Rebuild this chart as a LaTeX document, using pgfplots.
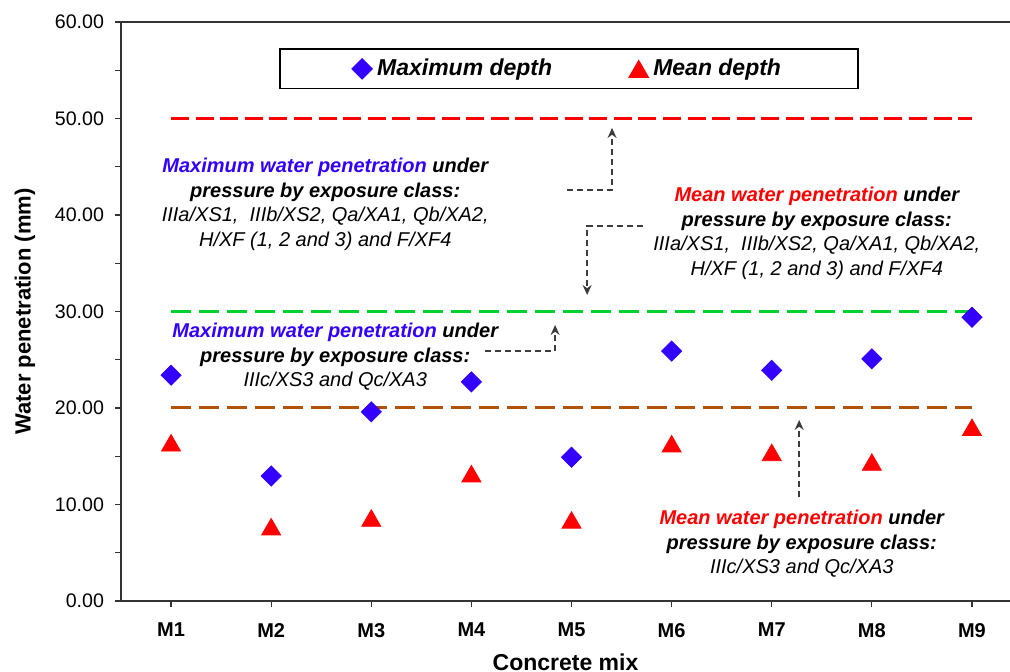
\documentclass[border=0pt]{standalone}
\usepackage{fontspec}
\setmainfont{Liberation Sans}
\usepackage{pgfplots}
\pgfplotsset{compat=1.18}
\usetikzlibrary{arrows.meta}

\definecolor{maxblue}{RGB}{51,0,255}
\definecolor{meanred}{RGB}{255,0,0}
\definecolor{limgreen}{RGB}{0,208,48}
\definecolor{limbrown}{RGB}{176,82,8}
\definecolor{arrowgray}{RGB}{60,60,60}

\tikzset{
  note/.style={align=center, inner sep=0pt,
    font=\fontsize{10}{12.25}\selectfont\bfseries\itshape},
  arr/.style={draw=arrowgray, line width=0.7pt, dash pattern=on 3pt off 2pt,
    -{Stealth[length=5pt,width=4.5pt]}},
  limit/.style={line width=1.5pt, dash pattern=on 9pt off 3.3pt},
}

\begin{document}
\begin{tikzpicture}
\begin{axis}[
  scale only axis, width=444.5pt, height=289.5pt,
  xmin=0.5, xmax=9.38, ymin=0, ymax=60,
  axis x line*=bottom, axis y line*=left,
  axis line style={black!80, line width=0.75pt},
  tick align=outside, tick style={black!80, line width=0.6pt},
  major tick length=3pt, minor tick length=3pt,
  xtick={1,...,9},
  xticklabels={M1,M2,M3,M4,M5,M6,M7,M8,M9},
  ytick={0,10,...,60}, minor y tick num=1,
  /pgf/number format/assume math mode=true,
  yticklabel style={/pgf/number format/fixed, /pgf/number format/fixed zerofill,
    /pgf/number format/precision=2, font=\fontsize{9.8}{11}\selectfont, xshift=-2pt},
  xticklabel style={font=\fontsize{10}{12}\selectfont\bfseries, yshift=-4.5pt},
  xlabel={Concrete mix},
  xlabel style={at={(axis description cs:0.5,-0.105)}, anchor=center,
    font=\fontsize{11.5}{13}\selectfont\bfseries},
  ylabel={Water penetration (mm)},
  ylabel style={at={(axis description cs:-0.108,0.5)}, anchor=center,
    font=\fontsize{11}{13}\selectfont\bfseries},
  legend columns=2,
  legend style={at={(0.504,0.919)}, anchor=center, draw=black, line width=0.6pt,
    fill=white, inner xsep=36pt, inner ysep=4pt,
    font=\fontsize{11.5}{13}\selectfont\bfseries\itshape,
    nodes={inner xsep=2.5pt, inner ysep=1pt},
    /tikz/every even column/.append style={column sep=36pt}},
  legend image code/.code={\draw[#1] plot coordinates {(0pt,0pt)};},
]
% limit lines
\addplot[meanred, limit, forget plot] coordinates {(1,50) (9,50)};
\addplot[limgreen, limit, dash pattern=on 10pt off 4pt, forget plot] coordinates {(1,30) (9,30)};
\addplot[limbrown, limit, dash pattern=on 10pt off 4pt, forget plot] coordinates {(1,20) (9,20)};

% measured depths
\addplot[only marks, color=maxblue, mark=square*, mark size=3.55pt,
  mark options={rotate=45, fill=maxblue, draw=maxblue}]
  coordinates {(1,23.4) (2,12.95) (3,19.6) (4,22.7) (5,14.9)
               (6,25.9) (7,23.9) (8,25.1) (9,29.4)};
\addlegendentry{Maximum depth}
\addplot[only marks, color=meanred, mark=triangle*, mark size=5.5pt,
  mark options={fill=meanred, draw=meanred, yshift=-1.4pt}]
  coordinates {(1,16.4) (2,7.7) (3,8.6) (4,13.2) (5,8.4)
               (6,16.3) (7,15.4) (8,14.4) (9,18.0)};
\addlegendentry{Mean depth}

\draw[black!80, line width=0.75pt] (rel axis cs:0,1) -- (rel axis cs:1,1);

% annotations
\node[note] at (axis cs:2.54,41.09) {\textcolor{maxblue}{Maximum water penetration} under\\
  pressure by exposure class:\\
  \mdseries IIIa/XS1,\ \ IIIb/XS2, Qa/XA1, Qb/XA2,\\
  \mdseries H/XF (1, 2 and 3) and F/XF4};
\node[note] at (axis cs:7.45,38.08) {\textcolor{meanred}{Mean water penetration} under\\
  pressure by exposure class:\\
  \mdseries IIIa/XS1,\ \ IIIb/XS2, Qa/XA1, Qb/XA2,\\
  \mdseries H/XF (1, 2 and 3) and F/XF4};
\node[note] at (axis cs:2.64,25.28) {\textcolor{maxblue}{Maximum water penetration} under\\
  pressure by exposure class:\\
  \mdseries IIIc/XS3 and Qc/XA3};
\node[note] at (axis cs:7.30,5.91) {\textcolor{meanred}{Mean water penetration} under\\
  pressure by exposure class:\\
  \mdseries IIIc/XS3 and Qc/XA3};

\draw[arr] (axis cs:4.956,42.59) -- (axis cs:5.405,42.59) -- (axis cs:5.405,49.02);
\draw[arr] (axis cs:5.715,38.86) -- (axis cs:5.156,38.86) -- (axis cs:5.156,31.71);
\draw[arr] (axis cs:4.137,25.91) -- (axis cs:4.836,25.91) -- (axis cs:4.836,28.60);
\draw[arr] (axis cs:7.274,10.78) -- (axis cs:7.274,18.76);

\coordinate (bl) at (rel axis cs:0,0);
\coordinate (tr) at (rel axis cs:1,1);
\end{axis}
\pgfresetboundingbox
\path ([shift={(-60.5pt,-35.5pt)}]bl) rectangle ([shift={(0pt,11pt)}]tr);
\end{tikzpicture}
\end{document}
